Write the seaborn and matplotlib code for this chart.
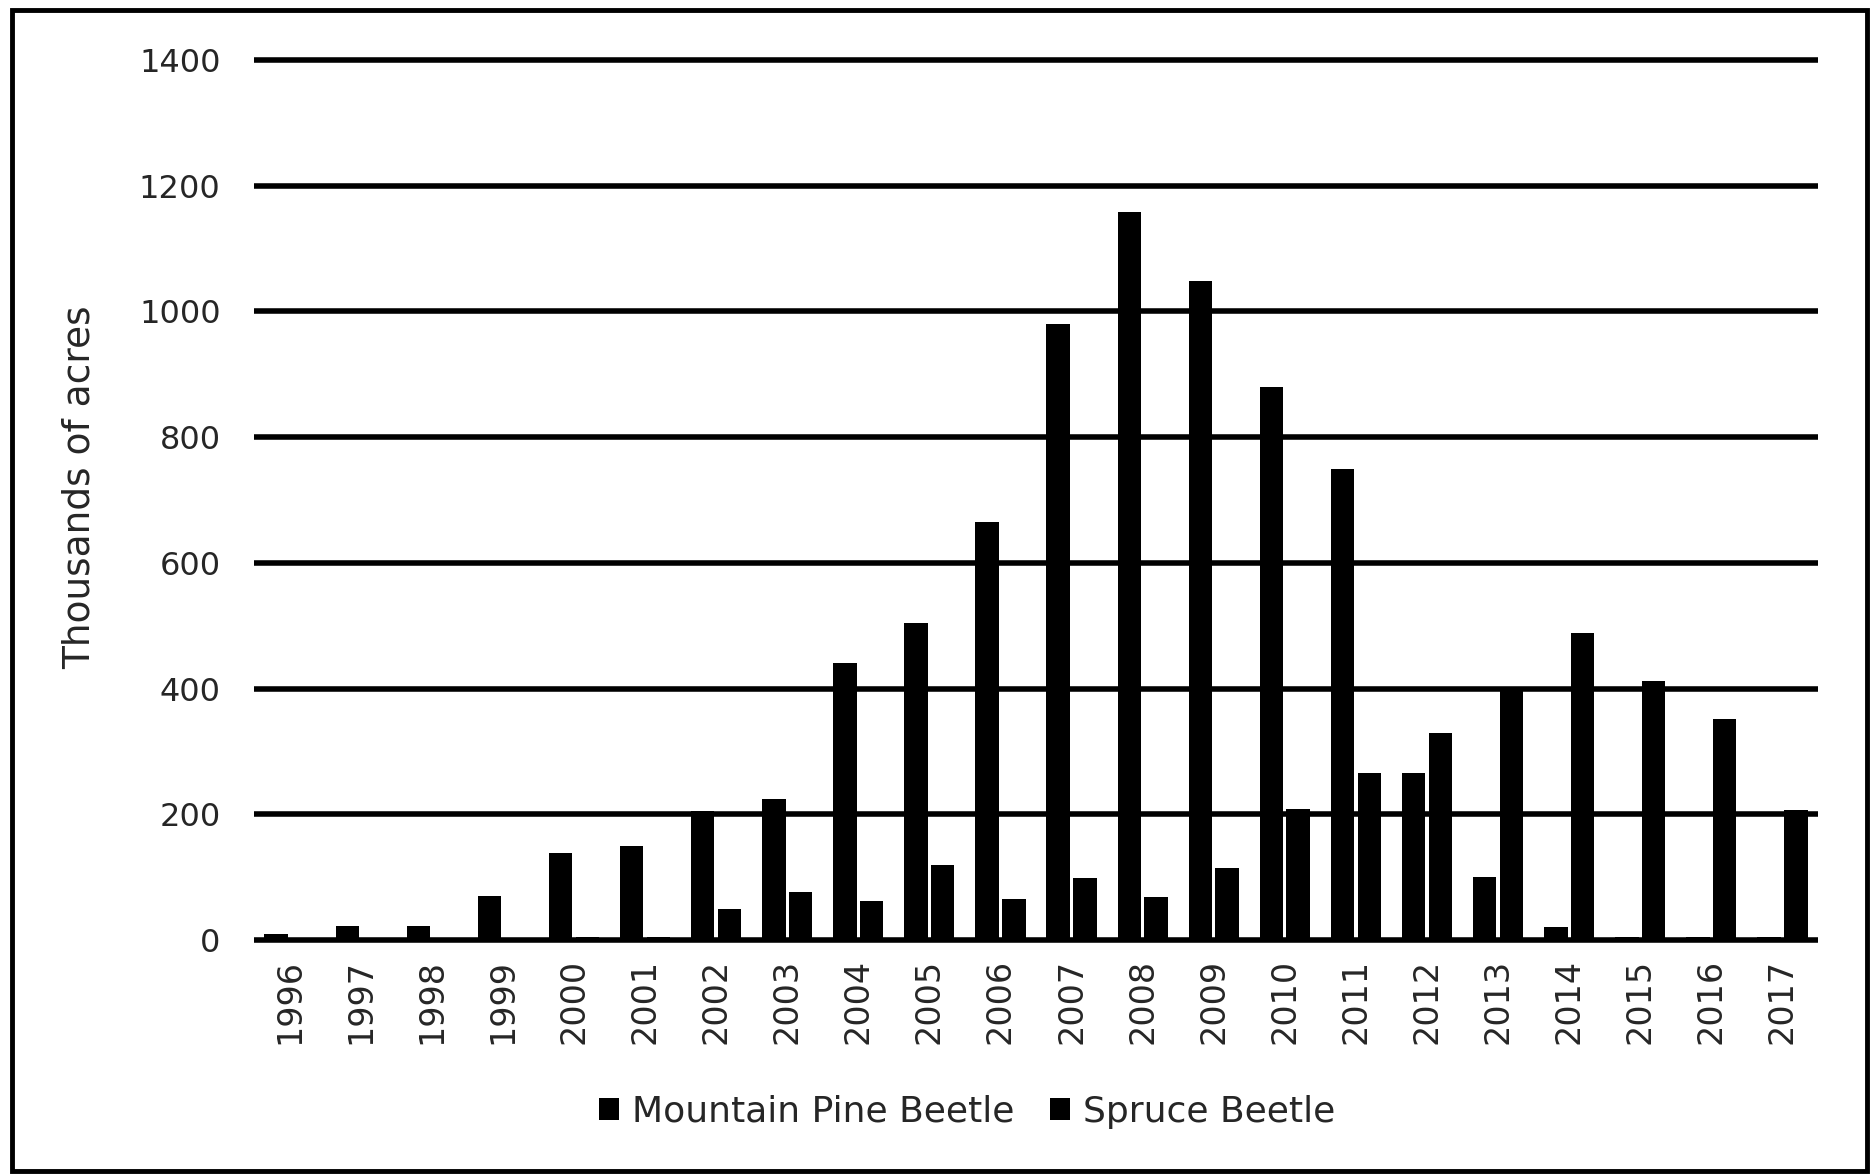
import numpy as np
import pandas as pd
import matplotlib
matplotlib.use("Agg")
import matplotlib.pyplot as plt
import matplotlib.patches as mpatches
import seaborn as sns

years = [str(y) for y in range(1996, 2018)]
mountain_pine = [10, 22, 22, 70, 138, 150, 205, 225, 440, 505, 665, 980, 1158, 1048, 880, 750,
                 265, 100, 20, 4, 4, 4]
spruce = [0, 0, 2, 0, 5, 5, 50, 76, 62, 119, 66, 99, 68, 115, 208, 265,
          330, 400, 488, 412, 352, 207]
series = ["Mountain Pine Beetle", "Spruce Beetle"]

df = pd.DataFrame({
    "year": years * 2,
    "acres": mountain_pine + spruce,
    "pest": [series[0]] * len(years) + [series[1]] * len(years),
})

sns.set_style("white")
plt.rcParams["font.family"] = ["DejaVu Sans"]

W, H = 1871, 1174
# 0 sits at y=940 px, 1400 at y=60 px; a small margin keeps the end gridlines unclipped
ppu = (940 - 60) / 1400
m = 8
fig = plt.figure(figsize=(W / 100, H / 100), dpi=100)
ax = fig.add_axes([254 / W, 1 - (940 + m * ppu) / H, (1818 - 254) / W, (880 + 2 * m * ppu) / H])

sns.barplot(data=df, x="year", y="acres", hue="pest", order=years, hue_order=series,
            palette={series[0]: "black", series[1]: "black"}, saturation=1,
            width=0.75, gap=0.12, errorbar=None, linewidth=0, ax=ax)

ax.set_ylim(-m, 1400 + m)
ax.set_yticks(range(0, 1401, 200))
ax.set_xlim(-0.5, len(years) - 0.5)
ax.set_axisbelow(True)
ax.yaxis.grid(True, color="black", lw=4)
ax.xaxis.grid(False)
for s in ax.spines.values():
    s.set_visible(False)

ax.tick_params(axis="y", length=0, pad=24, labelsize=23)
ax.tick_params(axis="x", length=0, pad=75 - m * ppu * 0.72, labelsize=24)
for lab in ax.get_xticklabels():
    lab.set_rotation(90)
    lab.set_rotation_mode("anchor")
    lab.set_ha("left")
    lab.set_va("center")

ax.set_xlabel("")
ax.set_ylabel("Thousands of acres", fontsize=27)
ax.yaxis.set_label_coords((98 - 254) / (1818 - 254), 0.514)

sns.move_legend(ax, "center", bbox_to_anchor=(967 / W, 1 - 1112 / H),
                bbox_transform=fig.transFigure, ncol=2, frameon=False, title=None,
                fontsize=26, handlelength=0.55, handleheight=0.55,
                handletextpad=0.35, columnspacing=1.0)

# border around the whole figure
fig.add_artist(mpatches.Rectangle((12 / W, 1 - 1171 / H), (1867 - 12) / W, (1171 - 10) / H,
                                  transform=fig.transFigure, fill=False, lw=3.5, ec="black"))

fig.savefig("out.png", dpi=100)
